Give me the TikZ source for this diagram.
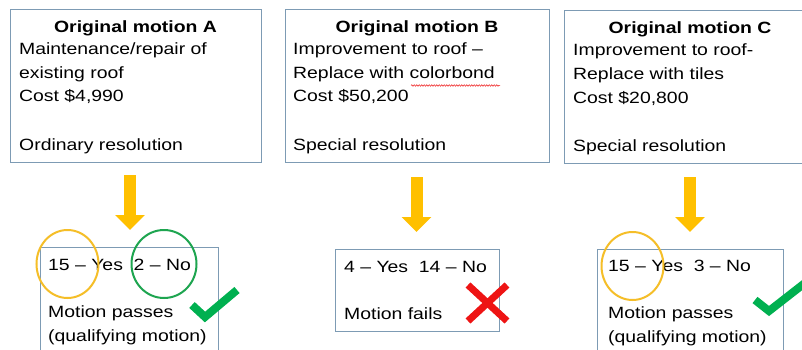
\documentclass[tikz,border=0pt]{standalone}
\usepackage{fontspec}
\setmainfont{Liberation Sans}[FakeStretch=1.19]
\usetikzlibrary{arrows.meta,decorations.pathmorphing}
\definecolor{boxline}{RGB}{125,155,180}
\definecolor{arrowor}{RGB}{255,192,0}
\definecolor{circor}{RGB}{245,190,40}
\definecolor{circgr}{RGB}{30,165,80}
\definecolor{checkgr}{RGB}{0,176,80}
\definecolor{crossred}{RGB}{238,20,20}
\tikzset{
  box/.style={draw=boxline, line width=0.9pt, fill=white},
  txt/.style={anchor=base west, inner sep=0pt, font=\fontsize{16.3}{23}\selectfont},
  ttl/.style={anchor=base, inner sep=0pt, font=\fontsize{16.3}{23}\selectfont\bfseries},
  bigarrow/.style={draw=arrowor, line width=12pt, -{Triangle[width=29pt,length=15pt]}},
  ring/.style={draw=#1, line width=2pt},
  checkm/.style={draw=checkgr, line width=8pt},
  crossm/.style={draw=crossred, line width=7pt},
}
\begin{document}
\begin{tikzpicture}[x=1pt,y=-1pt]
\useasboundingbox (0,0) rectangle (802,350);
\clip (0,0) rectangle (802,350);
\fill[white] (0,0) rectangle (802,350);
% top boxes
\draw[box] (10,9) rectangle (261,162) node[coordinate] (A) {};
\draw[box] (285,9) rectangle (549,162);
\draw[box] (564,10) rectangle (816,163);
% box A text
\node[ttl] (tA) at (135.5,33) {Original motion A};
\node[txt] (a1) at (19,55) {Maintenance/repair of};
\node[txt] (a2) at (19,79) {existing roof};
\node[txt] (a3) at (19,102) {Cost \$4,990};
\node[txt] (a4) at (19,150) {Ordinary resolution};
% box B text
\node[ttl] (tB) at (417,33) {Original motion B};
\node[txt] (b1) at (293,55) {Improvement to roof –};
\node[txt] (b2) at (293,79) {Replace with colorbond};
\node[txt] (b3) at (293,102) {Cost \$50,200};
\node[txt] (b4) at (293,150) {Special resolution};
\draw[crossred, line width=0.5pt, decorate, decoration={snake, amplitude=0.8pt, segment length=2.5pt}] (411,85.5) -- (500,85.5);
% box C text
\node[ttl] (tC) at (690,34) {Original motion C};
\node[txt] (c1) at (573,56) {Improvement to roof-};
\node[txt] (c2) at (573,80) {Replace with tiles};
\node[txt] (c3) at (573,103) {Cost \$20,800};
\node[txt] (c4) at (573,151) {Special resolution};
% arrows
\coordinate (pA1) at (130,175); \coordinate (pA2) at (130,230);
\coordinate (pB1) at (416.5,177); \coordinate (pB2) at (416.5,232);
\coordinate (pC1) at (690,177); \coordinate (pC2) at (690,232);
\draw[bigarrow] (pA1) -- (pA2);
\draw[bigarrow] (pB1) -- (pB2);
\draw[bigarrow] (pC1) -- (pC2);
% result boxes
\draw[box] (40,247) rectangle (218,360);
\draw[box] (335,249) rectangle (499,331);
\draw[box] (597,249) rectangle (783,360);
% result A
\node[txt] (ra1) at (48,270) {15 – Yes~ 2 – No};
\node[txt] (ra2) at (48,317) {Motion passes};
\node[txt] (ra3) at (48,341) {(qualifying motion)};
\draw[ring=circor] (67.5,264) ellipse [x radius=31, y radius=34];
\draw[ring=circgr] (164,264) ellipse [x radius=32.5, y radius=34];
\draw[checkm] (192,305) -- (205,317) -- (237,290);
% result B
\node[txt] (rb1) at (344,272) {4 – Yes~ 14 – No};
\node[txt] (rb2) at (344,319) {Motion fails};
\draw[crossm] (468,285) -- (507,321);
\draw[crossm] (507,285) -- (468,321);
% result C
\node[txt] (rc1) at (608,271) {15 – Yes~ 3 – No};
\node[txt] (rc2) at (608,318) {Motion passes};
\node[txt] (rc3) at (608,342) {(qualifying motion)};
\draw[ring=circor] (632.5,266) ellipse [x radius=31, y radius=34];
\draw[checkm] (755,300) -- (769,311) -- (810,279);
\end{tikzpicture}
\end{document}
